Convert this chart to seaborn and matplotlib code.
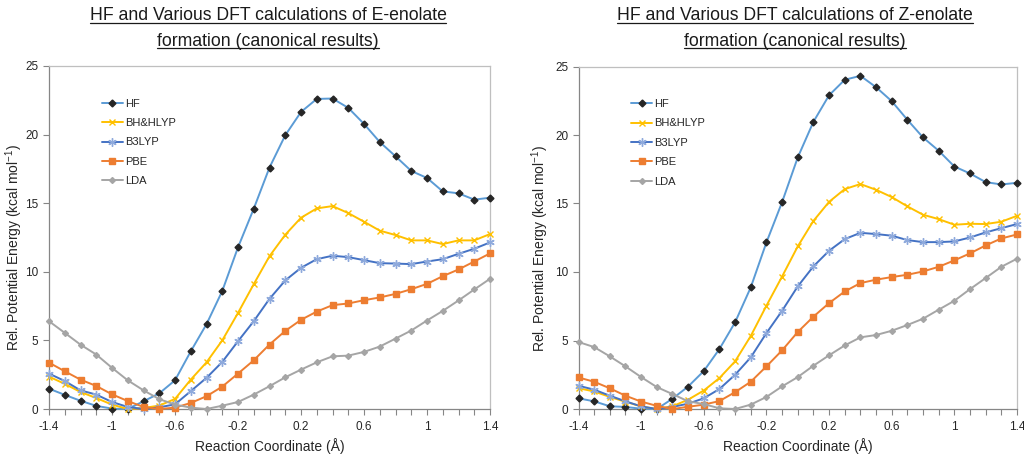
import numpy as np
import pandas as pd
import matplotlib
matplotlib.use("Agg")
import matplotlib.pyplot as plt
from matplotlib.lines import Line2D
import seaborn as sns

# reaction coordinate (Angstrom), -1.4 .. 1.4 in steps of 0.1
coord = [-1.4, -1.3, -1.2, -1.1, -1.0, -0.9, -0.8, -0.7, -0.6, -0.5,
         -0.4, -0.3, -0.2, -0.1, 0.0, 0.1, 0.2, 0.3, 0.4, 0.5,
         0.6, 0.7, 0.8, 0.9, 1.0, 1.1, 1.2, 1.3, 1.4]

# E-enolate
e_hf = [1.48, 1.03, 0.6, 0.23, 0.03, 0.0, 0.56, 1.14, 2.09, 4.2,
        6.18, 8.6, 11.78, 14.6, 17.6, 19.95, 21.65, 22.6, 22.63, 21.95,
        20.78, 19.46, 18.42, 17.35, 16.84, 15.86, 15.72, 15.26, 15.4]
e_bhhlyp = [2.36, 1.83, 1.24, 0.8, 0.32, 0.0, 0.07, 0.25, 0.73, 2.14,
            3.4, 5.0, 7.0, 9.1, 11.14, 12.7, 13.94, 14.62, 14.79, 14.28,
            13.65, 13.0, 12.68, 12.29, 12.29, 12.02, 12.29, 12.29, 12.75]
e_b3lyp = [2.58, 2.04, 1.36, 1.05, 0.51, 0.15, 0.0, 0.12, 0.34, 1.3,
           2.27, 3.43, 4.94, 6.4, 8.03, 9.37, 10.29, 10.92, 11.17, 11.07,
           10.85, 10.63, 10.6, 10.56, 10.75, 10.92, 11.31, 11.68, 12.14]
e_pbe = [3.38, 2.75, 2.14, 1.68, 1.07, 0.58, 0.15, 0.0, 0.1, 0.44,
         0.93, 1.63, 2.58, 3.55, 4.7, 5.69, 6.5, 7.1, 7.57, 7.69,
         7.93, 8.13, 8.39, 8.73, 9.12, 9.68, 10.17, 10.75, 11.34]
e_lda = [6.4, 5.55, 4.69, 3.97, 3.0, 2.09, 1.36, 0.72, 0.32, 0.1,
         0.0, 0.24, 0.51, 1.05, 1.66, 2.31, 2.87, 3.4, 3.84, 3.89,
         4.16, 4.55, 5.13, 5.72, 6.45, 7.15, 7.91, 8.71, 9.49]

# Z-enolate
z_hf = [0.78, 0.56, 0.2, 0.15, 0.02, 0.0, 0.75, 1.64, 2.77, 4.38,
        6.33, 8.88, 12.16, 15.1, 18.36, 20.96, 22.9, 24.03, 24.32, 23.49,
        22.47, 21.11, 19.82, 18.85, 17.7, 17.19, 16.56, 16.39, 16.51]
z_bhhlyp = [1.52, 1.28, 0.88, 0.53, 0.19, 0.0, 0.2, 0.68, 1.35, 2.26,
            3.48, 5.33, 7.54, 9.67, 11.87, 13.73, 15.12, 16.05, 16.42, 16.0,
            15.47, 14.79, 14.18, 13.86, 13.45, 13.52, 13.5, 13.67, 14.1]
z_b3lyp = [1.7, 1.41, 0.97, 0.56, 0.19, 0.0, 0.15, 0.39, 0.78, 1.46,
           2.5, 3.77, 5.54, 7.17, 8.95, 10.41, 11.55, 12.4, 12.86, 12.77,
           12.65, 12.33, 12.18, 12.18, 12.23, 12.52, 12.89, 13.2, 13.5]
z_pbe = [2.3, 1.99, 1.51, 0.97, 0.54, 0.23, 0.0, 0.16, 0.32, 0.58,
         1.23, 1.99, 3.11, 4.28, 5.62, 6.74, 7.73, 8.58, 9.19, 9.44,
         9.63, 9.8, 10.04, 10.38, 10.85, 11.36, 11.94, 12.45, 12.74]
z_lda = [4.89, 4.52, 3.84, 3.11, 2.33, 1.6, 1.09, 0.56, 0.36, 0.05,
         0.0, 0.32, 0.88, 1.65, 2.33, 3.16, 3.92, 4.64, 5.23, 5.4,
         5.71, 6.13, 6.59, 7.25, 7.9, 8.75, 9.56, 10.38, 10.97]

methods = ["HF", "BH&HLYP", "B3LYP", "PBE", "LDA"]
x_ticklabels = ["-1.4", "-1", "-0.6", "-0.2", "0.2", "0.6", "1", "1.4"]

titles = [("HF and Various DFT calculations of E-enolate", "formation (canonical results)"),
          ("HF and Various DFT calculations of Z-enolate", "formation (canonical results)")]

# line colour, marker, marker colour, marker size
styles = {
    "HF": ("#5B9BD5", "D", "#262626", 3.5),
    "BH&HLYP": ("#FFC000", "x", "#FFC000", 5),
    "B3LYP": ("#4472C4", (6, 2, 0), "#8FAADC", 6),
    "PBE": ("#ED7D31", "s", "#ED7D31", 4.2),
    "LDA": ("#A5A5A5", "D", "#A5A5A5", 3.0),
}

sns.set_theme(style="ticks")
plt.rcParams['font.family'] = ['Liberation Sans', 'DejaVu Sans']
plt.rcParams['mathtext.fontset'] = 'custom'
plt.rcParams['mathtext.rm'] = 'Liberation Sans'
plt.rcParams['mathtext.it'] = 'Liberation Sans:italic'

fig = plt.figure(figsize=(10.24, 4.54), dpi=100)
ax1 = fig.add_axes([49 / 1024, 1 - 409 / 454, 441 / 1024, 343 / 454])
ax2 = fig.add_axes([578.5 / 1024, 1 - 409 / 454, 438.5 / 1024, 342.5 / 454])

datasets = [[e_hf, e_bhhlyp, e_b3lyp, e_pbe, e_lda],
            [z_hf, z_bhhlyp, z_b3lyp, z_pbe, z_lda]]

for ax, series, ylx in zip([ax1, ax2], datasets, [-0.054, -0.062]):
    for name, vals in zip(methods, series):
        lc, mk, mc, ms = styles[name]
        df = pd.DataFrame({"x": coord, "y": vals})
        sns.lineplot(data=df, x="x", y="y", ax=ax, color=lc, lw=1.4,
                     marker=mk, markersize=ms, markerfacecolor=mc,
                     markeredgecolor=mc, markeredgewidth=1.0,
                     label=name, clip_on=False, zorder=3)

    ax.set_xlim(-1.4, 1.4)
    ax.set_ylim(0, 25)
    ax.set_xticks([float(t) for t in x_ticklabels])
    ax.set_xticklabels(x_ticklabels)
    ax.set_xticks(coord, minor=True)
    ax.set_yticks([0, 5, 10, 15, 20, 25])
    ax.tick_params(axis="both", which="both", direction="out", length=4,
                   width=0.8, color="#868686", labelsize=8.5,
                   labelcolor="#262626")
    ax.tick_params(axis="x", pad=5)
    for s in ["left", "bottom"]:
        ax.spines[s].set_color("#868686")
        ax.spines[s].set_linewidth(0.9)
    for s in ["top", "right"]:
        ax.spines[s].set_visible(True)
        ax.spines[s].set_color("#BFBFBF")
        ax.spines[s].set_linewidth(0.9)

    ax.set_xlabel("Reaction Coordinate (Å)", fontsize=10, color="#262626")
    ax.set_ylabel("Rel. Potential Energy (kcal mol$^{-1}$)", fontsize=10,
                  color="#262626")
    ax.xaxis.set_label_coords(0.5, -0.085)
    ax.yaxis.set_label_coords(ylx, 0.47)

    ax.legend(loc="upper left", bbox_to_anchor=(0.12, 0.905), frameon=False,
              fontsize=8, handlelength=1.9, handletextpad=0.2,
              labelspacing=0.85, borderpad=0, borderaxespad=0)

# titles, underlined
fig.canvas.draw()
renderer = fig.canvas.get_renderer()
for (l1, l2), cx in zip(titles, [268 / 1024, 795 / 1024]):
    for txt, ty in [(l1, 1 - 16 / 454), (l2, 1 - 41 / 454)]:
        t = fig.text(cx, ty, txt, ha="center", va="center", fontsize=12.7,
                     color="#1a1a1a")
        bb = t.get_window_extent(renderer=renderer)
        bb = bb.transformed(fig.transFigure.inverted())
        uy = bb.y0 + 0.003
        fig.add_artist(Line2D([bb.x0, bb.x1], [uy, uy], color="#1a1a1a",
                              lw=0.9, transform=fig.transFigure))

fig.savefig("out.png", dpi=100)
